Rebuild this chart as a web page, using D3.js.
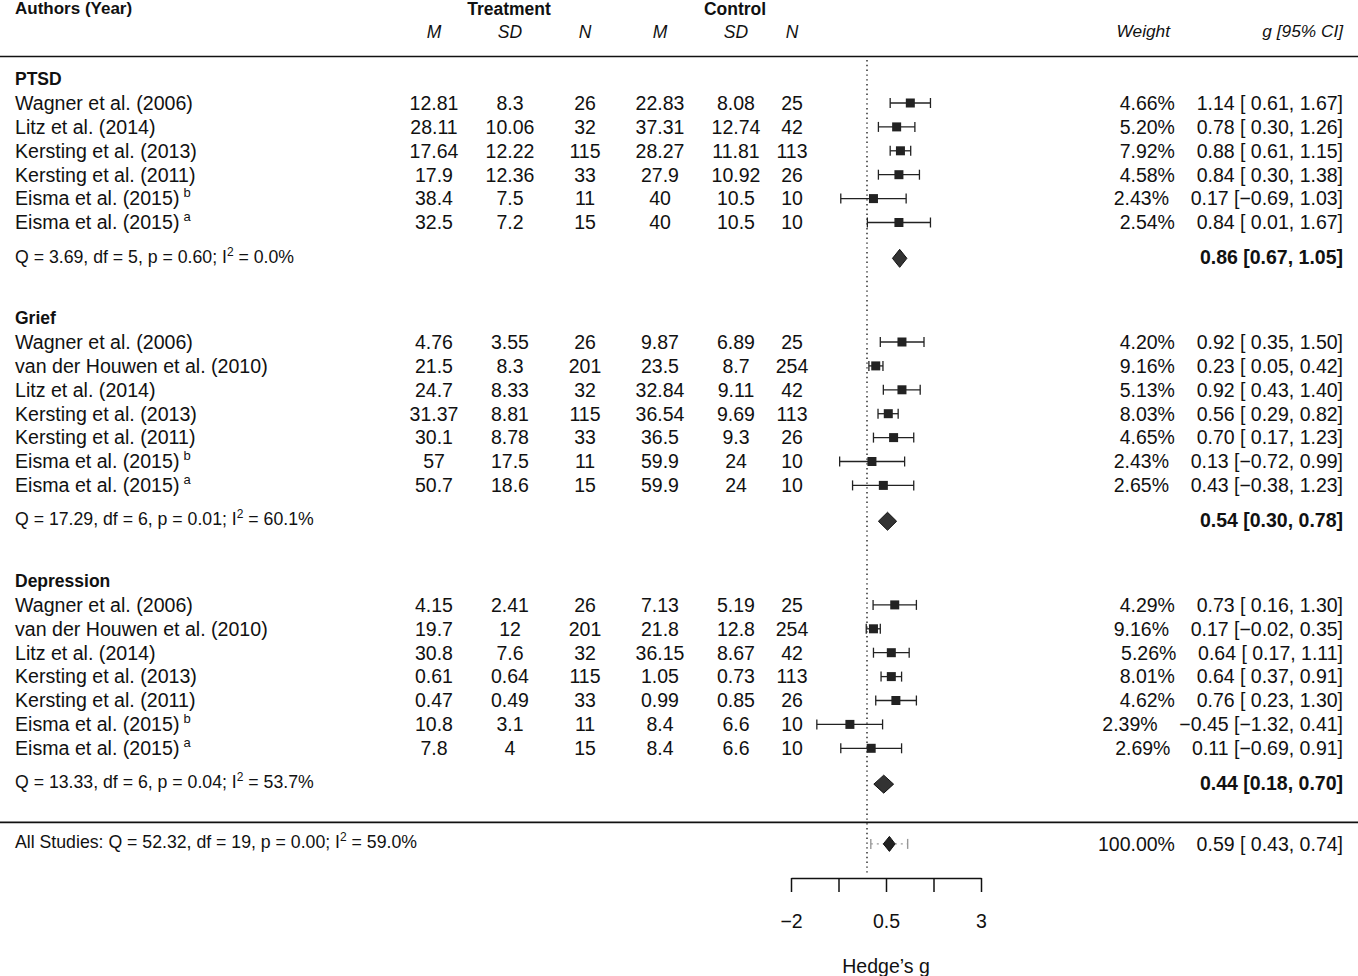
<!DOCTYPE html>
<html>
<head>
<meta charset="utf-8">
<script src="https://cdn.jsdelivr.net/npm/d3@7"></script>
<style>
  body { margin: 0; background: #fff; }
  svg { display: block; }
  text { font-family: "Liberation Sans", Arial, Helvetica, sans-serif; fill: #111; }
</style>
</head>
<body>
<div id="chart"></div>
<script>
// ---- data ----
var groups = ["PTSD", "Grief", "Depression"];

var authors = [
  ["Wagner et al. (2006)", "Litz et al. (2014)", "Kersting et al. (2013)", "Kersting et al. (2011)", "Eisma et al. (2015)|b", "Eisma et al. (2015)|a"],
  ["Wagner et al. (2006)", "van der Houwen et al. (2010)", "Litz et al. (2014)", "Kersting et al. (2013)", "Kersting et al. (2011)", "Eisma et al. (2015)|b", "Eisma et al. (2015)|a"],
  ["Wagner et al. (2006)", "van der Houwen et al. (2010)", "Litz et al. (2014)", "Kersting et al. (2013)", "Kersting et al. (2011)", "Eisma et al. (2015)|b", "Eisma et al. (2015)|a"]
];

var treatM  = [["12.81","28.11","17.64","17.9","38.4","32.5"], ["4.76","21.5","24.7","31.37","30.1","57","50.7"], ["4.15","19.7","30.8","0.61","0.47","10.8","7.8"]];
var treatSD = [["8.3","10.06","12.22","12.36","7.5","7.2"], ["3.55","8.3","8.33","8.81","8.78","17.5","18.6"], ["2.41","12","7.6","0.64","0.49","3.1","4"]];
var treatN  = [["26","32","115","33","11","15"], ["26","201","32","115","33","11","15"], ["26","201","32","115","33","11","15"]];
var ctrlM   = [["22.83","37.31","28.27","27.9","40","40"], ["9.87","23.5","32.84","36.54","36.5","59.9","59.9"], ["7.13","21.8","36.15","1.05","0.99","8.4","8.4"]];
var ctrlSD  = [["8.08","12.74","11.81","10.92","10.5","10.5"], ["6.89","8.7","9.11","9.69","9.3","24","24"], ["5.19","12.8","8.67","0.73","0.85","6.6","6.6"]];
var ctrlN   = [["25","42","113","26","10","10"], ["25","254","42","113","26","10","10"], ["25","254","42","113","26","10","10"]];

var weights = [[4.66, 5.20, 7.92, 4.58, 2.43, 2.54], [4.20, 9.16, 5.13, 8.03, 4.65, 2.43, 2.65], [4.29, 9.16, 5.26, 8.01, 4.62, 2.39, 2.69]];
var gEst = [[1.14, 0.78, 0.88, 0.84, 0.17, 0.84], [0.92, 0.23, 0.92, 0.56, 0.70, 0.13, 0.43], [0.73, 0.17, 0.64, 0.64, 0.76, -0.45, 0.11]];
var gLow = [[0.61, 0.30, 0.61, 0.30, -0.69, 0.01], [0.35, 0.05, 0.43, 0.29, 0.17, -0.72, -0.38], [0.16, -0.02, 0.17, 0.37, 0.23, -1.32, -0.69]];
var gHigh = [[1.67, 1.26, 1.15, 1.38, 1.03, 1.67], [1.50, 0.42, 1.40, 0.82, 1.23, 0.99, 1.23], [1.30, 0.35, 1.11, 0.91, 1.30, 0.41, 0.91]];

var hetQ  = ["3.69", "17.29", "13.33"];
var hetDf = ["5", "6", "6"];
var hetP  = ["0.60", "0.01", "0.04"];
var hetI2 = ["0.0", "60.1", "53.7"];
var sumEst  = [0.86, 0.54, 0.44];
var sumLow  = [0.67, 0.30, 0.18];
var sumHigh = [1.05, 0.78, 0.70];

var overall = {Q: "52.32", df: "19", p: "0.00", I2: "59.0", est: 0.59, low: 0.43, high: 0.74, piLow: 0.10, piHigh: 1.07, weight: 100};

var xTicks = [-2, -0.75, 0.5, 1.75, 3];
var xTickLabels = ["\u22122", "", "0.5", "", "3"];

// ---- layout ----
var width = 1358, height = 976;
var fmt = d3.format(".2f");
function ci(v) { var s = fmt(v).replace("-", "\u2212"); return v < 0 ? s : " " + s; }
function est(v) { return fmt(v).replace("-", "\u2212"); }
// weight and CI are one right-aligned string, as in the original
function rightCol(w, g, lo, hi) {
  return fmt(w) + "%    " + est(g) + " [" + ci(lo) + "," + ci(hi) + "]";
}

var svg = d3.select("#chart").append("svg")
  .attr("width", width).attr("height", height);

var x = d3.scaleLinear().domain([-2, 3]).range([791, 981]);
var y = d3.scaleLinear().domain([0, 1]).range([103, 126.9]);

var cols = [434, 510, 585, 660, 736, 792];
var ciX = 1343, leftX = 15;
var numSize = "19.5px", labSize = "19.6px", qSize = "17.7px";

// header
svg.append("text").attr("x", leftX).attr("y", 8).attr("dy", "0.35em")
  .style("font-size", "17px").style("font-weight", "bold").text("Authors (Year)");
svg.append("text").attr("x", 509).attr("y", 9).attr("dy", "0.35em").attr("text-anchor", "middle")
  .style("font-size", "17.5px").style("font-weight", "bold").text("Treatment");
svg.append("text").attr("x", 735).attr("y", 9).attr("dy", "0.35em").attr("text-anchor", "middle")
  .style("font-size", "17.5px").style("font-weight", "bold").text("Control");

svg.selectAll(".colhead").data(["M", "SD", "N", "M", "SD", "N"]).enter().append("text")
  .attr("x", function(d, i) { return cols[i]; }).attr("y", 32).attr("dy", "0.35em")
  .attr("text-anchor", "middle").style("font-size", "17.5px").style("font-style", "italic")
  .text(function(d) { return d; });
svg.append("text").attr("x", 1170).attr("y", 31).attr("dy", "0.35em").attr("text-anchor", "end")
  .style("font-size", "17.3px").style("font-style", "italic").text("Weight");
svg.append("text").attr("x", ciX).attr("y", 31).attr("dy", "0.35em").attr("text-anchor", "end")
  .style("font-size", "17.3px").style("font-style", "italic").text("g [95% CI]");

svg.append("line").attr("x1", 0).attr("x2", width).attr("y1", 56.5).attr("y2", 56.5)
  .attr("stroke", "#111").attr("stroke-width", 1.6);
svg.append("line").attr("x1", 0).attr("x2", width).attr("y1", y(30.1)).attr("y2", y(30.1))
  .attr("stroke", "#111").attr("stroke-width", 1.6);

// reference line at 0
svg.append("line").attr("x1", x(0)).attr("x2", x(0)).attr("y1", 60).attr("y2", 876)
  .attr("stroke", "#111").attr("stroke-width", 1.3).attr("stroke-dasharray", "1.4,3.4");

function hetText(sel, prefix, Q, df, p, I2) {
  sel.append("tspan").text(prefix + "Q = " + Q + ", df = " + df + ", p = " + p + "; I");
  sel.append("tspan").attr("dy", -7).style("font-size", "12px").text("2");
  sel.append("tspan").attr("dy", 7).text(" = " + I2 + "%");
}

var groupStart = [-1, 9, 20];

groups.forEach(function(name, gi) {
  var r0 = groupStart[gi];
  svg.append("text").attr("x", leftX).attr("y", y(r0)).attr("dy", "0.35em")
    .style("font-size", "17.5px").style("font-weight", "bold").text(name);

  var rows = authors[gi].map(function(a, i) {
    var parts = a.split("|");
    return {name: parts[0], sup: parts[1], row: r0 + 1 + i,
      vals: [treatM[gi][i], treatSD[gi][i], treatN[gi][i], ctrlM[gi][i], ctrlSD[gi][i], ctrlN[gi][i]],
      w: weights[gi][i], g: gEst[gi][i], lo: gLow[gi][i], hi: gHigh[gi][i]};
  });

  var g = svg.append("g");
  var rowG = g.selectAll("g.row").data(rows).enter().append("g").attr("class", "row");

  var lab = rowG.append("text").attr("x", leftX).attr("y", function(d) { return y(d.row); })
    .attr("dy", "0.35em").style("font-size", labSize);
  lab.append("tspan").text(function(d) { return d.name; });
  lab.filter(function(d) { return d.sup; }).append("tspan")
    .attr("dx", 4).attr("dy", -8).style("font-size", "13px").text(function(d) { return d.sup; });

  cols.forEach(function(cx, ci_) {
    rowG.append("text").attr("x", cx).attr("y", function(d) { return y(d.row); }).attr("dy", "0.35em")
      .attr("text-anchor", "middle").style("font-size", numSize).text(function(d) { return d.vals[ci_]; });
  });

  rowG.append("text").attr("x", ciX).attr("y", function(d) { return y(d.row); }).attr("dy", "0.35em")
    .attr("text-anchor", "end").style("font-size", numSize).style("white-space", "pre")
    .text(function(d) { return rightCol(d.w, d.g, d.lo, d.hi); });

  // CI whiskers
  rowG.append("line").attr("x1", function(d) { return x(d.lo); }).attr("x2", function(d) { return x(d.hi); })
    .attr("y1", function(d) { return y(d.row); }).attr("y2", function(d) { return y(d.row); })
    .attr("stroke", "#222").attr("stroke-width", 1.3);
  [function(d) { return x(d.lo); }, function(d) { return x(d.hi); }].forEach(function(fx) {
    rowG.append("line").attr("x1", fx).attr("x2", fx)
      .attr("y1", function(d) { return y(d.row) - 5; }).attr("y2", function(d) { return y(d.row) + 5; })
      .attr("stroke", "#222").attr("stroke-width", 1.3);
  });
  rowG.append("rect").attr("x", function(d) { return x(d.g) - 4.5; }).attr("y", function(d) { return y(d.row) - 4.5; })
    .attr("width", 9).attr("height", 9).attr("fill", "#222");

  // heterogeneity & summary
  var rs = r0 + rows.length + 1.5;
  var yc = y(rs);
  hetText(svg.append("text").attr("x", leftX).attr("y", yc - 2).attr("dy", "0.35em").style("font-size", qSize),
    "", hetQ[gi], hetDf[gi], hetP[gi], hetI2[gi]);

  svg.append("path")
    .attr("d", "M" + x(sumLow[gi]) + "," + yc + "L" + x(sumEst[gi]) + "," + (yc - 9) +
      "L" + x(sumHigh[gi]) + "," + yc + "L" + x(sumEst[gi]) + "," + (yc + 9) + "Z")
    .attr("fill", "#333").attr("stroke", "#111").attr("stroke-width", 1);
  svg.append("text").attr("x", ciX).attr("y", yc - 1).attr("dy", "0.35em").attr("text-anchor", "end")
    .style("font-size", numSize).style("font-weight", "bold")
    .text(fmt(sumEst[gi]) + " [" + fmt(sumLow[gi]) + ", " + fmt(sumHigh[gi]) + "]");
});

// overall
var yo = y(31);
hetText(svg.append("text").attr("x", leftX).attr("y", yo - 2).attr("dy", "0.35em").style("font-size", qSize),
  "All Studies: ", overall.Q, overall.df, overall.p, overall.I2);

svg.append("line").attr("x1", x(overall.piLow)).attr("x2", x(overall.piHigh)).attr("y1", yo).attr("y2", yo)
  .attr("stroke", "#999").attr("stroke-width", 1.2).attr("stroke-dasharray", "2,4");
[overall.piLow, overall.piHigh].forEach(function(v) {
  svg.append("line").attr("x1", x(v)).attr("x2", x(v)).attr("y1", yo - 5).attr("y2", yo + 5)
    .attr("stroke", "#999").attr("stroke-width", 1.4);
});
svg.append("path")
  .attr("d", "M" + x(overall.low) + "," + yo + "L" + x(overall.est) + "," + (yo - 7.5) +
    "L" + x(overall.high) + "," + yo + "L" + x(overall.est) + "," + (yo + 7.5) + "Z")
  .attr("fill", "#222").attr("stroke", "#111").attr("stroke-width", 1);
svg.append("text").attr("x", ciX).attr("y", yo).attr("dy", "0.35em").attr("text-anchor", "end")
  .style("font-size", numSize).style("white-space", "pre")
  .text(rightCol(overall.weight, overall.est, overall.low, overall.high));

// axis
var axis = d3.axisBottom(x).tickValues(xTicks).tickSize(14).tickSizeOuter(0).tickPadding(22)
  .tickFormat(function(d, i) { return xTickLabels[i]; });
var ax = svg.append("g").attr("transform", "translate(0,878)").call(axis);
ax.select(".domain").attr("stroke", "#111").attr("stroke-width", 1.5);
ax.selectAll(".tick line").attr("stroke", "#111").attr("stroke-width", 1.5);
ax.selectAll(".tick text").style("font-size", numSize).style("font-family", "'Liberation Sans', Arial, sans-serif").attr("fill", "#111");

svg.append("text").attr("x", x(0.5)).attr("y", 966).attr("dy", "0.35em").attr("text-anchor", "middle")
  .style("font-size", numSize).text("Hedge\u2019s g");
</script>
</body>
</html>
